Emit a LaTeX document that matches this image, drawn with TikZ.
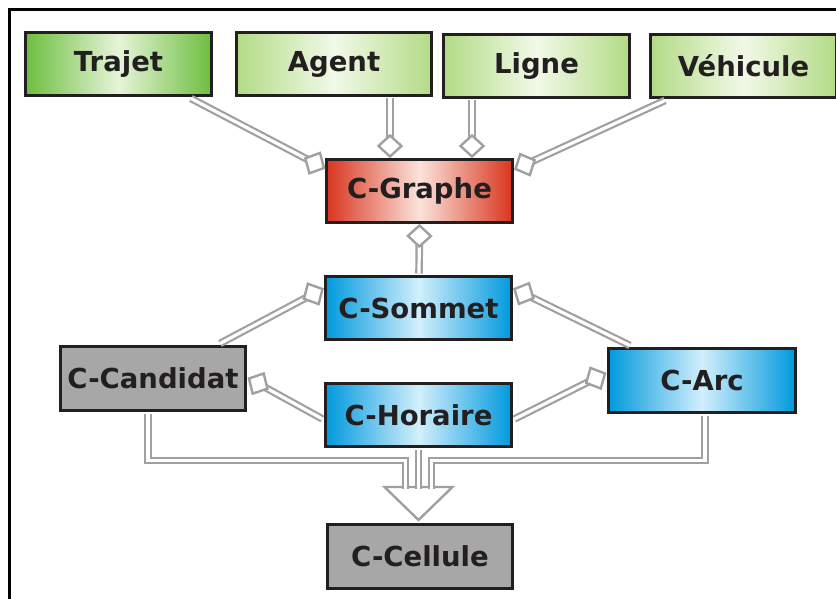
\documentclass[tikz,border=0pt]{standalone}
\usepackage{fontspec}
\setmainfont{DejaVu Sans}
\usetikzlibrary{calc}
\definecolor{txt}{HTML}{231F20}
\definecolor{grnD}{HTML}{6DBE3F}
\definecolor{grnDc}{HTML}{E6F4D8}
\definecolor{grnL}{HTML}{B2DB85}
\definecolor{grnLc}{HTML}{F2F9E8}
\definecolor{redE}{HTML}{D9351F}
\definecolor{redC}{HTML}{FBE3DB}
\definecolor{bluE}{HTML}{0099DD}
\definecolor{bluC}{HTML}{D2EFFC}
\definecolor{grayF}{HTML}{A7A7A7}
\definecolor{linkC}{HTML}{A0A0A0}
\tikzset{
  box/.style={draw=txt, line width=3pt, inner sep=0pt, text=txt,
    font=\fontsize{27.5}{30}\selectfont\bfseries},
  greenD/.style={box, left color=grnD, right color=grnD, middle color=grnDc},
  greenL/.style={box, left color=grnL, right color=grnL, middle color=grnLc},
  redbox/.style={box, left color=redE, right color=redE, middle color=redC},
  bluebox/.style={box, left color=bluE, right color=bluE, middle color=bluC},
  graybox/.style={box, fill=grayF},
  link/.style={draw=linkC, line width=2.2pt, double=white, double distance=3.2pt, line join=miter},
  diam/.style={draw=linkC, line width=2.4pt, fill=white, line join=miter},
  frame/.style={draw=black, line width=3.5pt}
}
\newcommand\aggrlink[2]{%
  \coordinate (aS) at (#1);
  \coordinate (aT) at (#2);
  \coordinate (aB) at ($(aT)!21pt!(aS)$);
  \coordinate (aE) at ($(aT)!17pt!(aS)$);
  \coordinate (aM) at ($(aT)!10.5pt!(aS)$);
  \draw[link] (aS) -- (aE);
  \draw[diam] (aT) -- ($(aM)!11.5pt!90:(aT)$) -- (aB) -- ($(aM)!11.5pt!-90:(aT)$) -- cycle;
}
\begin{document}
\begin{tikzpicture}[x=1pt,y=-1pt]
\useasboundingbox (0,0) rectangle (836,599);
\coordinate (fTL) at (9.5,9.5);
\coordinate (fTR) at (840,9.5);
\coordinate (fBL) at (9.5,603);
\draw[frame] (fTR) -- (fTL) -- (fBL);

\node[greenD, minimum width=186pt, minimum height=63pt] (trajet) at (118.5,64) {Trajet};
\node[greenL, minimum width=195pt, minimum height=63pt] (agent) at (334,64) {Agent};
\node[greenL, minimum width=186pt, minimum height=63pt] (ligne) at (536.5,66) {Ligne};
\node[greenL, minimum width=186pt, minimum height=63pt] (vehicule) at (743.5,66) {Véhicule};
\node[redbox, minimum width=186pt, minimum height=63pt] (graphe) at (419.5,191) {C-Graphe};
\node[bluebox, minimum width=186pt, minimum height=63pt] (sommet) at (418.5,308) {C-Sommet};
\node[graybox, minimum width=185pt, minimum height=64pt] (candidat) at (153,378.5) {C-Candidat};
\node[bluebox, minimum width=186pt, minimum height=63pt] (horaire) at (418.5,415) {C-Horaire};
\node[bluebox, minimum width=187pt, minimum height=64pt] (arc) at (702,380.5) {C-Arc};
\node[graybox, minimum width=185pt, minimum height=64pt] (cellule) at (420,556.5) {C-Cellule};

% aggregation links
\aggrlink{$(trajet.south east)+(-22,1.5)$}{$(graphe.north west)+(-1,10)$}
\aggrlink{$(agent.south)+(56,1.5)$}{$(graphe.north)+(-29.5,-1.5)$}
\aggrlink{$(ligne.south)+(-64.5,1.5)$}{$(graphe.north)+(52.5,-1.5)$}
\aggrlink{$(vehicule.south west)+(16,1.5)$}{$(graphe.north east)+(1.5,11)$}
\aggrlink{$(sommet.north)+(0.5,-1.5)$}{$(graphe.south)+(0,1.5)$}
\aggrlink{$(candidat.north)+(67,-1.5)$}{$(sommet.north west)+(-1.5,14)$}
\aggrlink{$(arc.north)+(-72,-1.5)$}{$(sommet.north east)+(1.5,14)$}
\aggrlink{$(horaire.west)+(-1.5,4)$}{$(candidat.east)+(2,0)$}
\aggrlink{$(horaire.east)+(1.5,4)$}{$(arc.west)+(-2,-7)$}

% inheritance
\coordinate (tipC) at ($(cellule.north)+(-1.5,-3)$);
\coordinate (triL) at ($(tipC)+(-34,-33)$);
\coordinate (triR) at ($(tipC)+(34,-33)$);
\draw[diam] (triL) -- (triR) -- (tipC) -- cycle;
\coordinate (inL) at ($(triL)+(21,1.5)$);
\coordinate (inM) at (horaire.south |- inL);
\coordinate (inR) at ($(triL)+(47,1.5)$);
\draw[link] ($(candidat.south)+(-5,1.5)$) |- ($(inL)+(0,-28)$) -- (inL);
\draw[link] ($(horaire.south)+(0,1.5)$) -- (inM);
\draw[link] ($(arc.south)+(3,1.5)$) |- ($(inR)+(0,-28)$) -- (inR);
\end{tikzpicture}
\end{document}
